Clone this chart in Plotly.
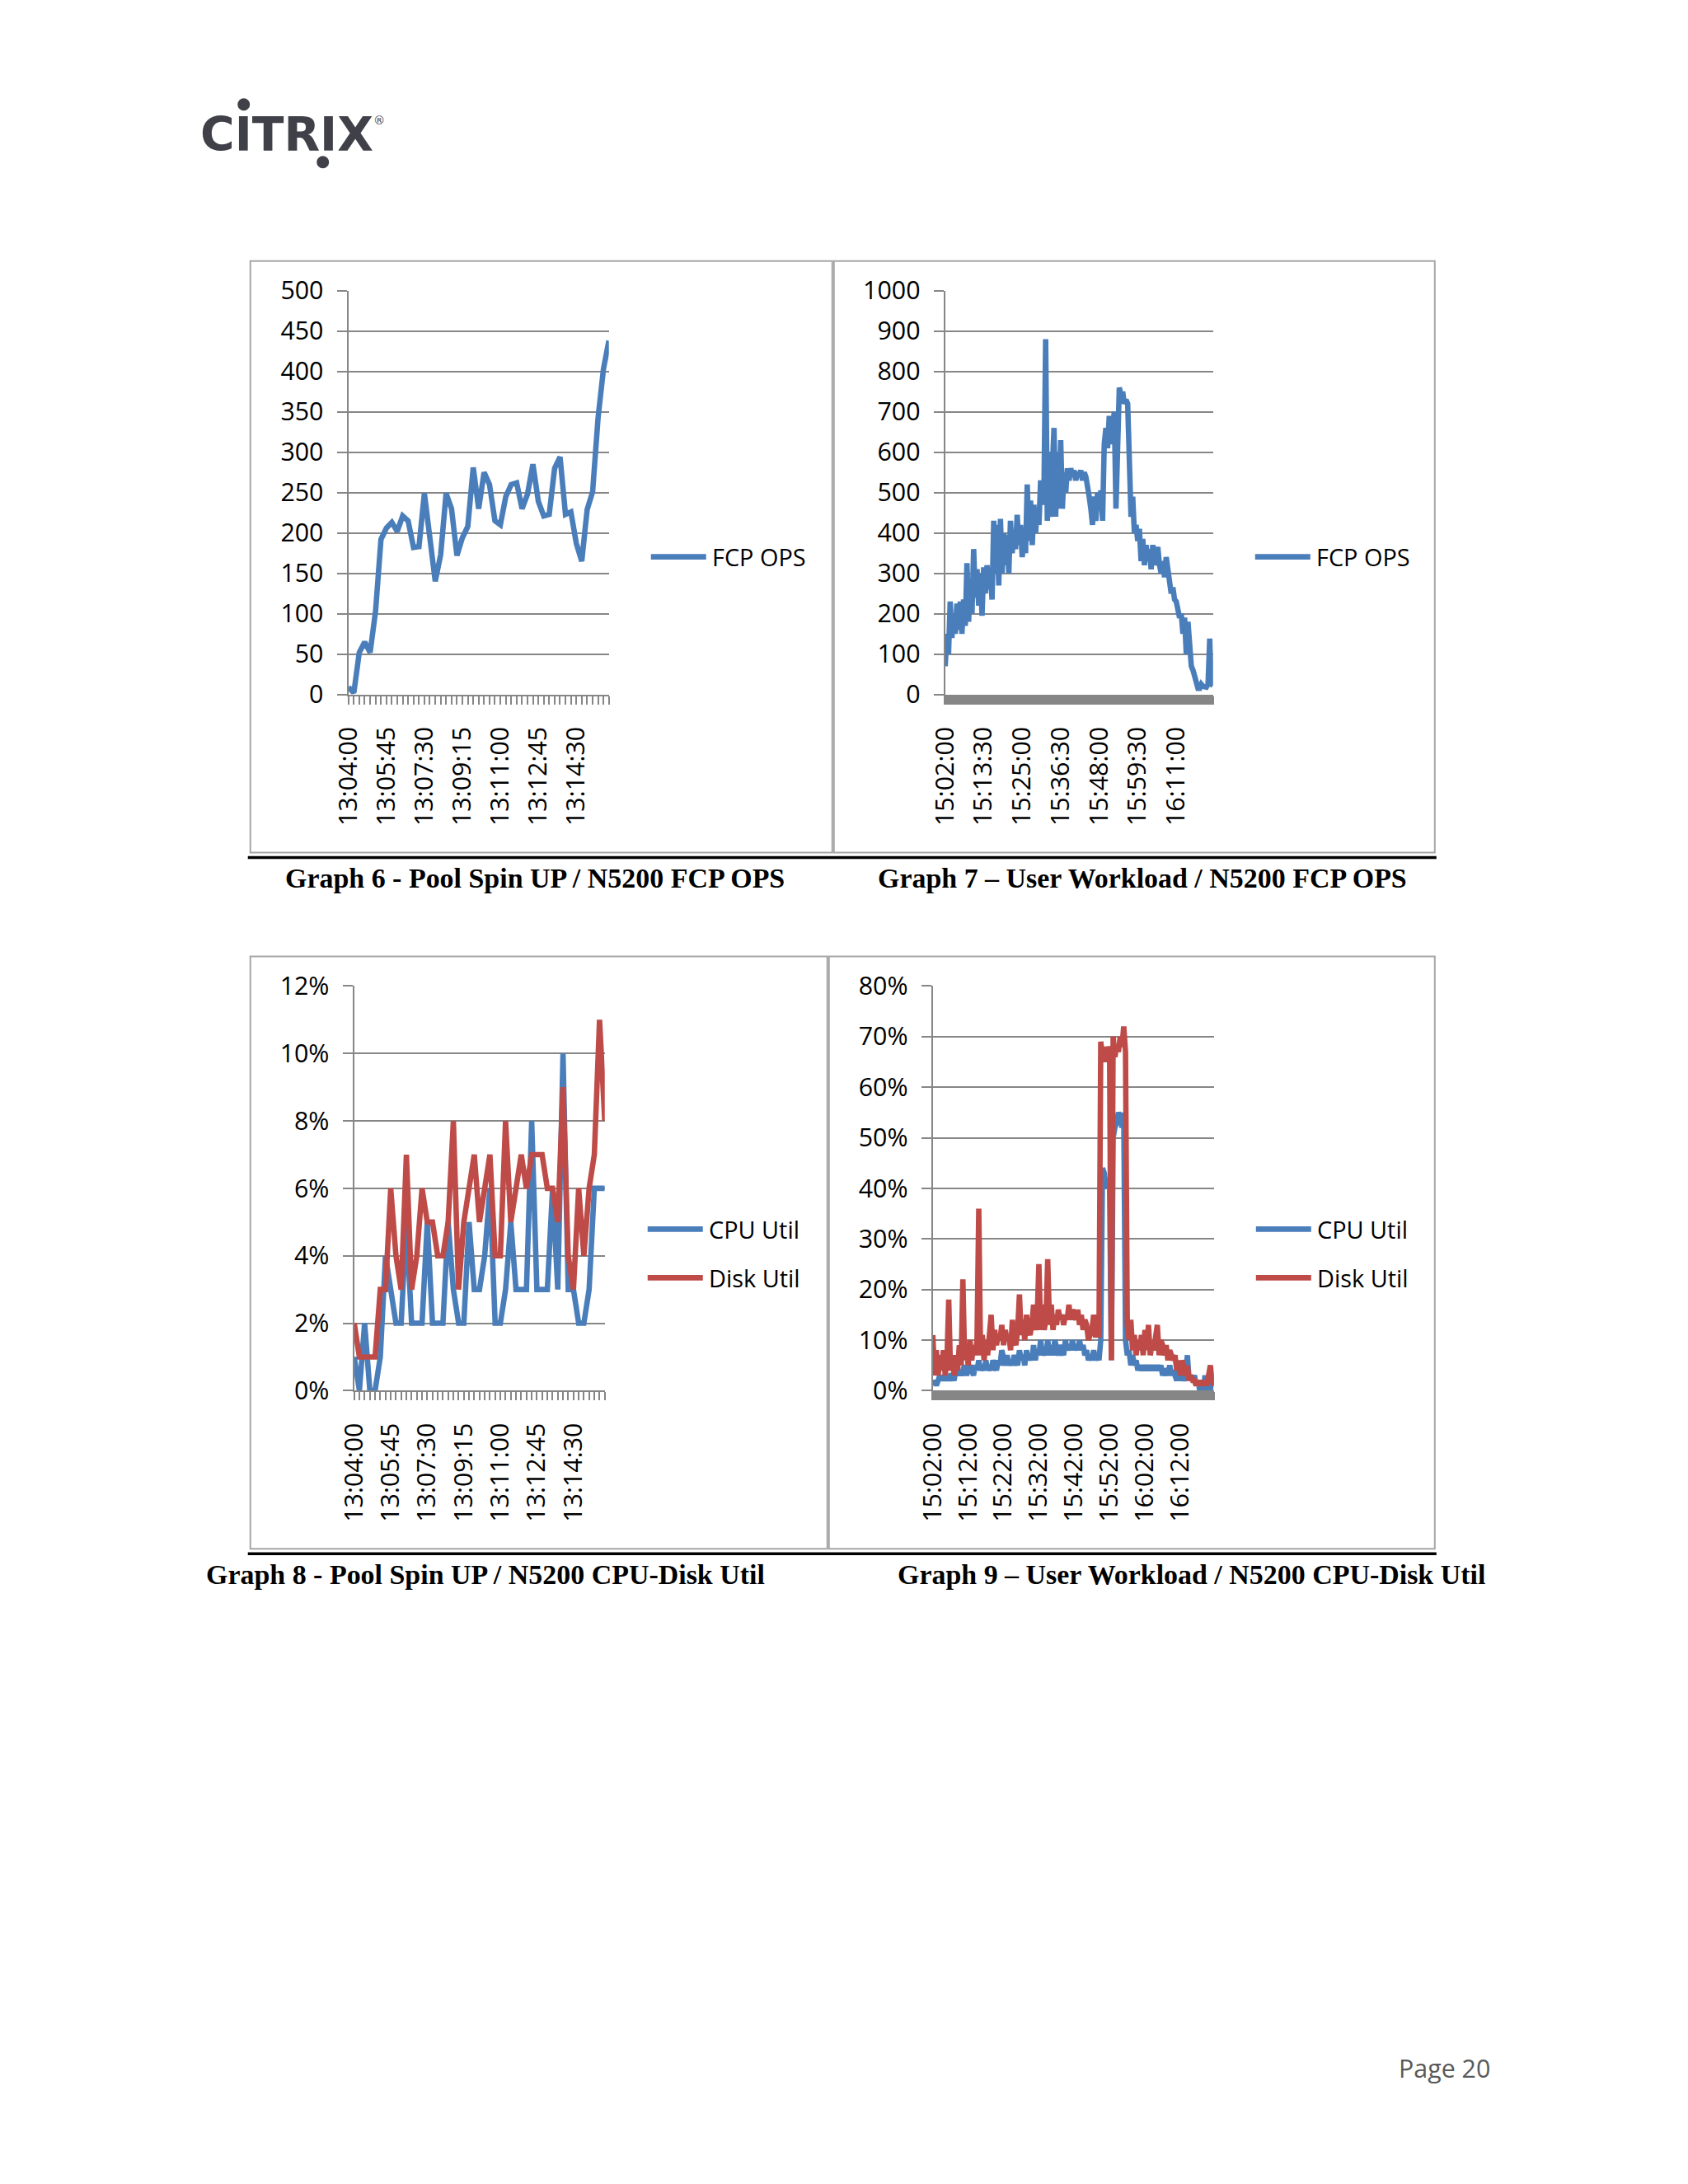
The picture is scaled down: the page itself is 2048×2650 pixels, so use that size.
import plotly.graph_objects as go
from datetime import datetime, timedelta

W, H = 2048, 2650

def time_axis(start, step_s, n):
    t0 = datetime.strptime(start, "%H:%M:%S")
    return [(t0 + timedelta(seconds=step_s * i)).strftime("%H:%M:%S") for i in range(n)]

# ---------------- Graph 6 : Pool Spin UP / FCP OPS ----------------
g6_fcp_ops = [9, 2, 52, 65, 52, 103, 192, 206, 213, 202,
              221, 215, 182, 183, 249, 194, 140, 173, 249, 230,
              172, 194, 208, 281, 230, 275, 260, 215, 210, 245,
              260, 262, 230, 248, 285, 239, 221, 223, 280, 294,
              223, 226, 187, 165, 229, 251, 342, 403, 438]
g6_times = time_axis("13:04:00", 15, len(g6_fcp_ops))
g6_tick_labels = ["13:04:00", "13:05:45", "13:07:30", "13:09:15", "13:11:00", "13:12:45", "13:14:30"]

# ---------------- Graph 7 : User Workload / FCP OPS ----------------
g7_fcp_ops = [70, 150, 100, 230, 140, 200, 150, 225, 160, 230,
              150, 235, 170, 325, 180, 280, 200, 360, 240, 310,
              220, 300, 195, 315, 250, 320, 260, 300, 235, 430,
              300, 420, 270, 435, 300, 400, 320, 395, 300, 430,
              350, 400, 360, 445, 370, 420, 340, 380, 350, 520,
              380, 480, 370, 470, 400, 460, 420, 530, 470, 500,
              880, 430, 600, 440, 560, 660, 440, 600, 460, 630,
              460, 550, 500, 560, 530, 560, 540, 555, 530, 550,
              540, 555, 530, 550, 540, 500, 490, 460, 420, 490,
              430, 500, 480, 505, 430, 620, 660, 610, 690, 620,
              650, 700, 460, 710, 760, 740, 750, 720, 730, 720,
              500, 440, 490, 400, 420, 380, 410, 330, 385, 320,
              370, 330, 360, 310, 370, 320, 350, 365, 320, 300,
              330, 290, 340, 300, 270, 250, 265, 235, 230, 210,
              190, 200, 150, 190, 100, 180, 120, 70, 60, 40,
              25, 15, 15, 25, 20, 20, 18, 25, 138, 25,
              22]
g7_times = time_axis("15:02:00", 30, len(g7_fcp_ops))
g7_tick_labels = ["15:02:00", "15:13:30", "15:25:00", "15:36:30", "15:48:00", "15:59:30", "16:11:00"]

# ---------------- Graph 8 : Pool Spin UP / CPU-Disk Util (%) ----------------
g8_cpu_util = [1, 0, 2, 0, 0, 1, 4, 3, 2, 2,
               5, 2, 2, 2, 5, 2, 2, 2, 5, 3,
               2, 2, 5, 3, 3, 4, 6, 2, 2, 3,
               5, 3, 3, 3, 8, 3, 3, 3, 6, 3,
               10, 3, 3, 2, 2, 3, 6, 6, 6]
g8_disk_util = [2, 1, 1, 1, 1, 3, 3, 6, 4, 3,
                7, 3, 4, 6, 5, 5, 4, 4, 5, 8,
                3, 5, 6, 7, 5, 6, 7, 4, 4, 8,
                5, 6, 7, 6, 7, 7, 7, 6, 6, 5,
                9, 4, 3, 6, 4, 6, 7, 11, 8]
g8_times = time_axis("13:04:00", 15, len(g8_cpu_util))
g8_tick_labels = ["13:04:00", "13:05:45", "13:07:30", "13:09:15", "13:11:00", "13:12:45", "13:14:30"]

# ---------------- Graph 9 : User Workload / CPU-Disk Util (%) ----------------
g9_cpu_util = [1, 2, 1, 2, 3, 2, 3, 2, 3, 2,
               3, 3, 2, 4, 3, 4, 3, 4, 5, 3,
               4, 5, 4, 3, 5, 4, 6, 4, 5, 4,
               6, 4, 5, 4, 6, 5, 4, 6, 5, 8,
               6, 5, 7, 5, 6, 5, 7, 6, 5, 8,
               6, 7, 5, 8, 6, 7, 6, 9, 6, 8,
               7, 10, 7, 8, 7, 10, 7, 9, 7, 10,
               8, 7, 9, 8, 7, 10, 8, 9, 8, 10,
               8, 9, 8, 10, 8, 9, 7, 8, 6, 7,
               6, 8, 6, 7, 6, 10, 44, 43, 40, 42,
               40, 6, 50, 52, 53, 55, 54, 52, 55, 10,
               7, 8, 5, 7, 5, 6, 4, 5, 4, 5,
               4, 5, 4, 5, 4, 5, 4, 5, 4, 5,
               3, 4, 4, 3, 5, 3, 4, 3, 2, 4,
               2, 3, 2, 3, 7, 2, 3, 2, 3, 1,
               2, 0, 1, 0, 3, 0, 1, 0, 3, 1]
g9_disk_util = [11, 3, 8, 3, 7, 4, 8, 3, 6, 18,
                4, 7, 3, 7, 4, 9, 5, 22, 6, 9,
                5, 10, 6, 9, 7, 10, 36, 7, 11, 6,
                10, 7, 11, 15, 8, 12, 9, 11, 10, 13,
                9, 12, 10, 11, 8, 14, 10, 9, 12, 19,
                11, 14, 10, 15, 12, 11, 13, 17, 12, 14,
                25, 12, 17, 12, 14, 26, 13, 17, 12, 15,
                13, 16, 14, 15, 13, 15, 14, 17, 14, 16,
                15, 14, 16, 13, 15, 12, 14, 13, 10, 11,
                12, 15, 11, 11, 11, 69, 66, 68, 65, 68,
                67, 6, 70, 66, 68, 67, 70, 68, 72, 67,
                13, 10, 14, 8, 11, 7, 10, 8, 11, 7,
                12, 8, 13, 7, 9, 8, 12, 13, 7, 10,
                9, 7, 9, 6, 8, 7, 6, 7, 4, 6,
                3, 6, 4, 3, 5, 2, 3, 2, 2, 1,
                2, 1, 2, 1, 2, 1, 3, 5, 2, 1]
g9_times = time_axis("15:02:00", 30, len(g9_cpu_util))
g9_tick_labels = ["15:02:00", "15:12:00", "15:22:00", "15:32:00", "15:42:00", "15:52:00", "16:02:00", "16:12:00"]

captions = ["Graph 6 - Pool Spin UP / N5200 FCP OPS",
            "Graph 7 \u2013 User Workload / N5200 FCP OPS",
            "Graph 8 - Pool Spin UP / N5200 CPU-Disk Util",
            "Graph 9 \u2013 User Workload / N5200 CPU-Disk Util"]

# ---------------- styling ----------------
BLUE = "#4A7EBB"
RED = "#BE4B48"
GRID = "#868686"
FRAME = "#a6a6a6"
FONT = "Open Sans"

# page-placement compensation (measured offset/scale of the photographed page)
OX, OY = 30.3, 29.2
SX, SY = 0.9892, 0.9848
SF = (SX + SY) / 2

LW = 6.5 / SF
FS = 30 / SF
FSL = 28.5 / SF

def px(x):
    return ((x - OX) / SX) / W

def py(y):
    return 1 - ((y - OY) / SY) / H

fig = go.Figure()

panels = [
    dict(times=g6_times, labels=g6_tick_labels, yr=[0, 500], dtick=50, suffix="",
         x0=423, x1=739, y0=353, y1=843, tickw=2,
         series=[("FCP OPS", g6_fcp_ops, BLUE)], leg_x=790, leg_y=[676]),
    dict(times=g7_times, labels=g7_tick_labels, yr=[0, 1000], dtick=100, suffix="",
         x0=1147, x1=1472, y0=353, y1=843, tickw=2.7,
         series=[("FCP OPS", g7_fcp_ops, BLUE)], leg_x=1523, leg_y=[676]),
    dict(times=g8_times, labels=g8_tick_labels, yr=[0, 12], dtick=2, suffix="%",
         x0=430, x1=734, y0=1197, y1=1688, tickw=2,
         series=[("CPU Util", g8_cpu_util, BLUE), ("Disk Util", g8_disk_util, RED)],
         leg_x=786, leg_y=[1492, 1551]),
    dict(times=g9_times, labels=g9_tick_labels, yr=[0, 80], dtick=10, suffix="%",
         x0=1132, x1=1473, y0=1197, y1=1688, tickw=2.7,
         series=[("CPU Util", g9_cpu_util, BLUE), ("Disk Util", g9_disk_util, RED)],
         leg_x=1524, leg_y=[1492, 1551]),
]

shapes = []
annotations = []

for n, p in enumerate(panels, start=1):
    sx = "" if n == 1 else str(n)
    for name, vals, col in p["series"]:
        fig.add_trace(go.Scatter(x=p["times"], y=vals, mode="lines", name=name,
                                 line=dict(color=col, width=LW),
                                 xaxis="x" + sx, yaxis="y" + sx, showlegend=False))
    fig.update_layout(**{
        "xaxis" + sx: dict(domain=[px(p["x0"]), px(p["x1"])], anchor="y" + sx,
                           type="category", range=[0, len(p["times"]) - 1],
                           tickmode="array", tickvals=p["times"],
                           ticktext=[t if t in p["labels"] else "" for t in p["times"]],
                           tickangle=-90, ticks="outside", ticklen=10 / SF,
                           tickwidth=p["tickw"], tickcolor=GRID,
                           showline=True, linecolor=GRID, linewidth=2,
                           showgrid=False, zeroline=False,
                           tickfont=dict(family=FONT, size=FS, color="black"),
                           ticklabelstandoff=15, fixedrange=True),
        "yaxis" + sx: dict(domain=[py(p["y1"]), py(p["y0"])], anchor="x" + sx,
                           range=p["yr"], dtick=p["dtick"], tick0=0,
                           ticksuffix=p["suffix"], ticks="outside", ticklen=12 / SF,
                           tickwidth=2, tickcolor=GRID,
                           showline=True, linecolor=GRID, linewidth=2,
                           showgrid=True, gridcolor=GRID, gridwidth=2,
                           zeroline=False,
                           tickfont=dict(family=FONT, size=FS, color="black"),
                           ticklabelstandoff=10, fixedrange=True),
    })
    for (name, vals, col), ly in zip(p["series"], p["leg_y"]):
        shapes.append(dict(type="line", xref="paper", yref="paper",
                           x0=px(p["leg_x"]), x1=px(p["leg_x"] + 67), y0=py(ly), y1=py(ly),
                           line=dict(color=col, width=LW)))
        annotations.append(dict(xref="paper", yref="paper", x=px(p["leg_x"] + 72), y=py(ly),
                                xanchor="left", yanchor="middle", showarrow=False,
                                text=name, font=dict(family=FONT, size=FSL, color="black")))

# chart frames
for (x0, x1, y0, y1) in [(304, 1010, 317, 1035), (1012, 1741, 317, 1035),
                         (304, 1004, 1161, 1880), (1006, 1741, 1161, 1880)]:
    shapes.append(dict(type="rect", xref="paper", yref="paper",
                       x0=px(x0), x1=px(x1), y0=py(y1), y1=py(y0),
                       line=dict(color=FRAME, width=2), fillcolor="rgba(0,0,0,0)", layer="below"))
for yy in (1041, 1886):
    shapes.append(dict(type="line", xref="paper", yref="paper",
                       x0=px(301), x1=px(1743), y0=py(yy), y1=py(yy),
                       line=dict(color="black", width=3.5)))

for text, cx, cy in zip(captions, [649, 1386, 589, 1446], [1066, 1066, 1911, 1911]):
    annotations.append(dict(xref="paper", yref="paper", x=px(cx), y=py(cy),
                            xanchor="center", yanchor="middle", showarrow=False,
                            text="<b>" + text + "</b>",
                            font=dict(family="Liberation Serif", size=33.5 / SF, color="black")))

LOGO = "#404148"
annotations.append(dict(xref="paper", yref="paper", x=px(241), y=py(163),
                        xanchor="left", yanchor="middle", showarrow=False,
                        text="<b>CITRIX</b>",
                        font=dict(family="DejaVu Sans", size=56 / SF, color=LOGO)))
annotations.append(dict(xref="paper", yref="paper", x=px(451), y=py(146),
                        xanchor="left", yanchor="middle", showarrow=False,
                        text="\u00ae", font=dict(family="DejaVu Sans", size=14 / SF, color=LOGO)))
for cx, cy in [(296, 127), (392, 197)]:
    shapes.append(dict(type="circle", xref="paper", yref="paper",
                       x0=px(cx - 7.5), x1=px(cx + 7.5), y0=py(cy + 7.5), y1=py(cy - 7.5),
                       fillcolor=LOGO, line=dict(width=0)))

annotations.append(dict(xref="paper", yref="paper", x=px(1753), y=py(2510),
                        xanchor="center", yanchor="middle", showarrow=False,
                        text="Page 20", font=dict(family=FONT, size=FS, color="#595959")))

fig.update_layout(width=W, height=H, margin=dict(l=0, r=0, t=0, b=0),
                  paper_bgcolor="white", plot_bgcolor="white",
                  font=dict(family=FONT, size=FS, color="black"),
                  shapes=shapes, annotations=annotations, showlegend=False)

fig.write_html("out.html")
